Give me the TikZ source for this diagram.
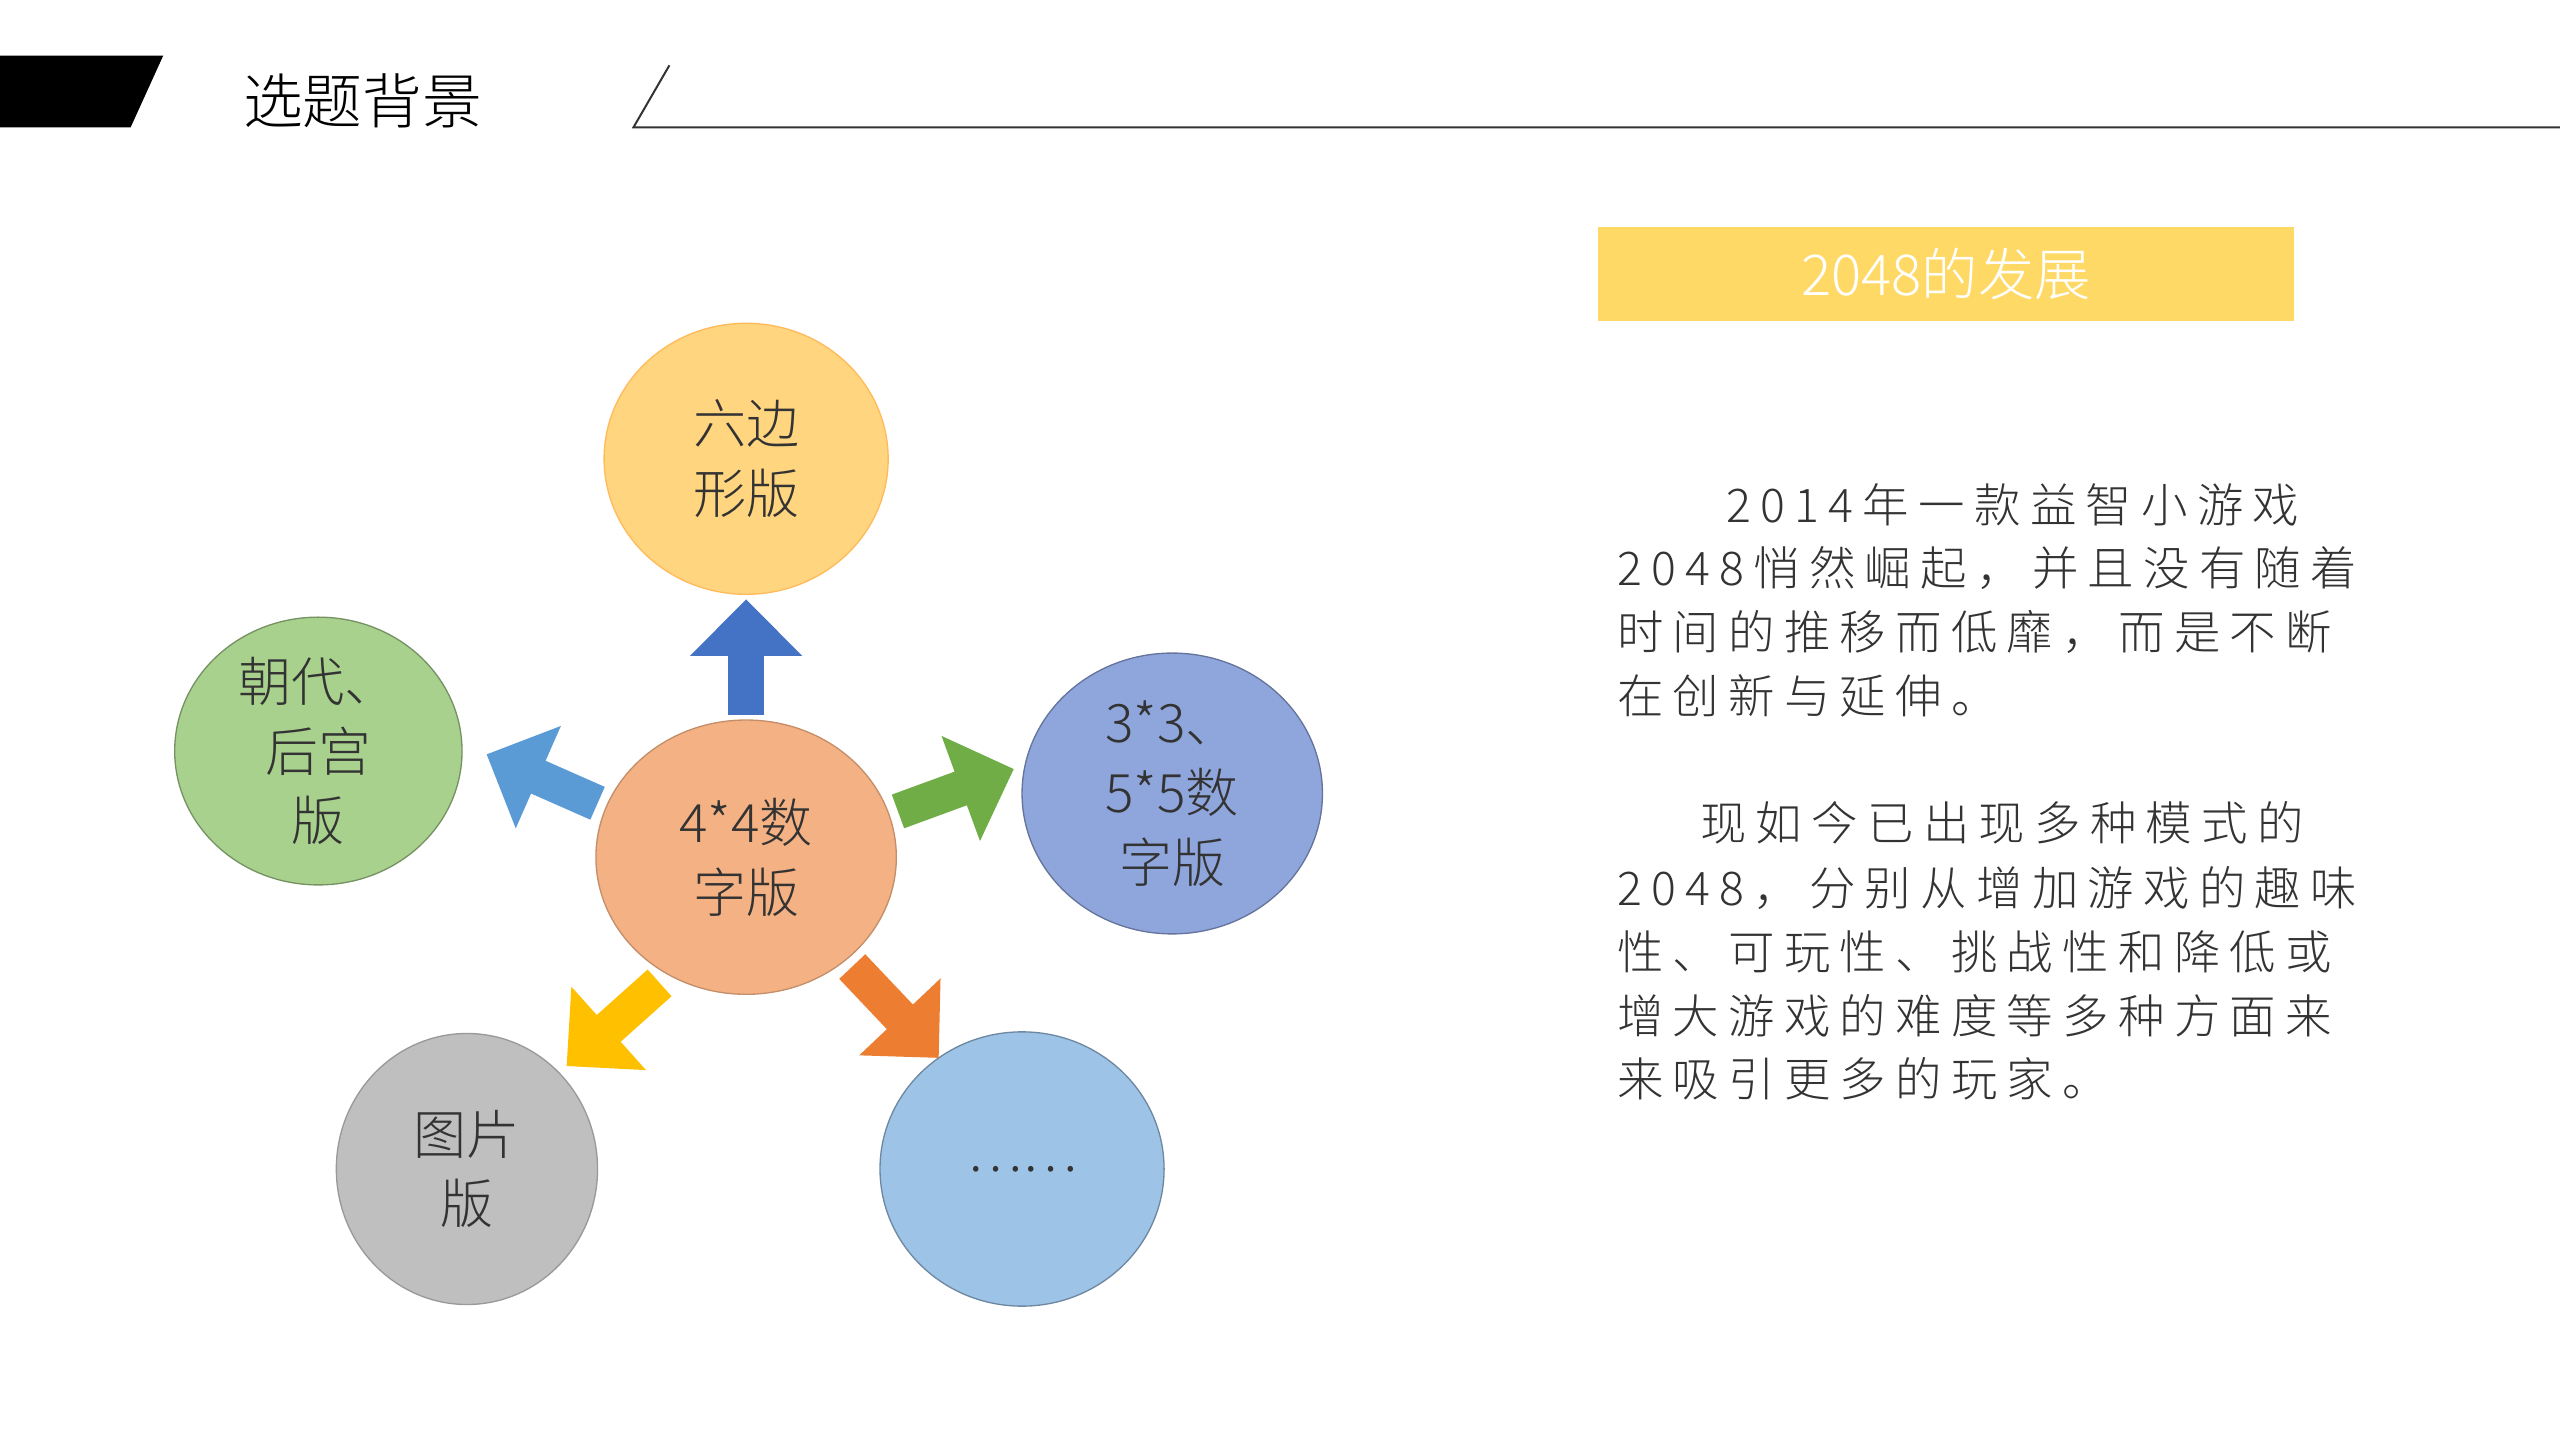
\documentclass[tikz,border=0pt]{standalone}
\usepackage{fontspec}
\usetikzlibrary{arrows.meta}
\setmainfont{Noto Sans CJK SC Light}
\newfontfamily\cjk{Noto Sans CJK SC Light}
\newfontfamily\cjkp[LetterSpace=20]{Noto Sans CJK SC Light}
\definecolor{cy}{RGB}{255,213,128}\definecolor{cg}{RGB}{169,209,142}
\definecolor{cb}{RGB}{143,166,220}\definecolor{co}{RGB}{244,177,131}
\definecolor{cgr}{RGB}{191,191,191}\definecolor{clb}{RGB}{157,195,230}
\definecolor{hdrc}{RGB}{255,217,102}
\definecolor{ar1}{RGB}{68,114,196}\definecolor{ar2}{RGB}{91,155,213}
\definecolor{ar3}{RGB}{112,173,71}\definecolor{ar4}{RGB}{255,192,0}
\definecolor{ar5}{RGB}{237,125,49}
\begin{document}
\begin{tikzpicture}[x=0.0173cm,y=-0.0173cm,
  ctxt/.style={font=\cjk\fontsize{16}{21}\selectfont, align=center, text=black!80},
  ptxt/.style={anchor=west, font=\cjkp\fontsize{14}{19}\selectfont, text=black!80, inner sep=0pt},
  barrow/.style={line width=0.38cm, -{Triangle[length=0.6cm,width=1.15cm]}, draw=#1}]
\useasboundingbox (0,0) rectangle (1568,882);
\fill[black] (0,34) -- (100,34) -- (80,78) -- (0,78) -- cycle;
\node[font=\cjk\fontsize{18}{22}\selectfont] (title) at (222,62) {选题背景};
\coordinate (l1) at (388,78); \coordinate (l2) at (410,40); \coordinate (l3) at (1568,78);
\draw[black!80, line width=0.6pt] (l2) -- (l1) -- (l3);
\node[fill=hdrc, minimum width=7.37cm, minimum height=1.0cm, text=white, font=\cjk\fontsize{17}{20}\selectfont] (hdr) at (1192,168) {2048的发展};
\fill[cy] (457,281) ellipse [x radius=87,y radius=83]; \draw[cy!70!orange] (457,281) ellipse [x radius=87,y radius=83];
\fill[cg] (195,460) ellipse [x radius=88,y radius=82]; \draw[cg!70!black] (195,460) ellipse [x radius=88,y radius=82];
\fill[cb] (718,486) ellipse [x radius=92,y radius=86]; \draw[cb!70!black] (718,486) ellipse [x radius=92,y radius=86];
\fill[co] (457,525) ellipse [x radius=92,y radius=84]; \draw[co!80!black] (457,525) ellipse [x radius=92,y radius=84];
\fill[cgr] (286,716) ellipse [x radius=80,y radius=83]; \draw[cgr!80!black] (286,716) ellipse [x radius=80,y radius=83];
\fill[clb] (626,716) ellipse [x radius=87,y radius=84]; \draw[clb!70!black] (626,716) ellipse [x radius=87,y radius=84];
\node[ctxt] (top) at (457,281) {六边\\形版};
\node[ctxt] (left) at (195,460) {朝代、\\后宫\\版};
\node[ctxt] (right) at (718,486) {3*3、\\5*5数\\字版};
\node[ctxt] (ctr) at (457,525) {4*4数\\字版};
\node[ctxt] (bl) at (286,716) {图片\\版};
\node[ctxt] (br) at (626,716) {……};
\coordinate (a1s) at (457,438); \coordinate (a1e) at (457,367);
\coordinate (a2s) at (366,492); \coordinate (a2e) at (298,462);
\coordinate (a3s) at (550,497); \coordinate (a3e) at (621,471);
\coordinate (a4s) at (404,602); \coordinate (a4e) at (347,653);
\coordinate (a5s) at (522,592); \coordinate (a5e) at (575,648);
\draw[barrow=ar1] (a1s) -- (a1e);
\draw[barrow=ar2] (a2s) -- (a2e);
\draw[barrow=ar3] (a3s) -- (a3e);
\draw[barrow=ar4] (a4s) -- (a4e);
\draw[barrow=ar5] (a5s) -- (a5e);
\node[ptxt] (p1) at (1057,309) {2014年一款益智小游戏};
\node[ptxt] (p2) at (990,348) {2048悄然崛起，并且没有随着};
\node[ptxt] (p3) at (990,387) {时间的推移而低靡，而是不断};
\node[ptxt] (p4) at (990,426) {在创新与延伸。};
\node[ptxt] (q1) at (1041,504) {现如今已出现多种模式的};
\node[ptxt] (q2) at (990,544) {2048，分别从增加游戏的趣味};
\node[ptxt] (q3) at (990,583) {性、可玩性、挑战性和降低或};
\node[ptxt] (q4) at (990,622) {增大游戏的难度等多种方面来};
\node[ptxt] (q5) at (990,661) {来吸引更多的玩家。};
\end{tikzpicture}
\end{document}
